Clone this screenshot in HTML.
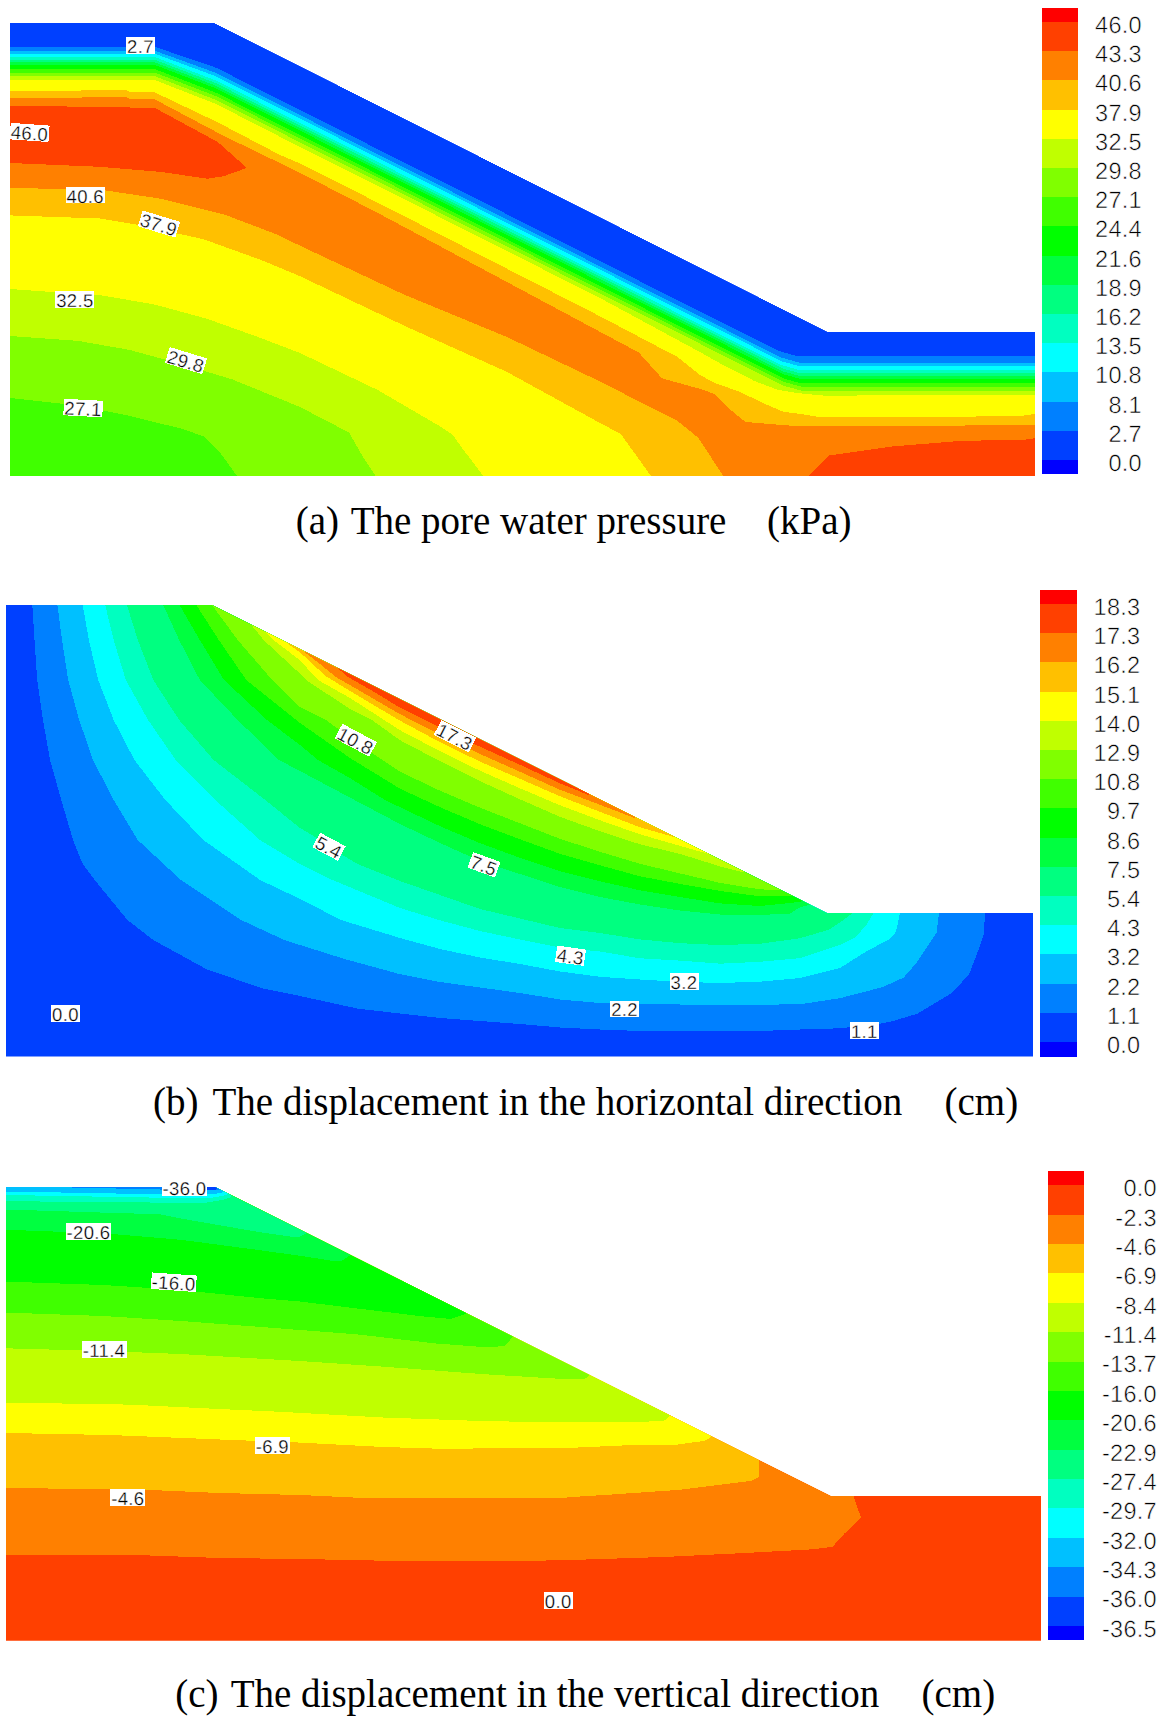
<!DOCTYPE html>
<html><head><meta charset="utf-8"><title>Contours</title>
<style>
html,body{margin:0;padding:0;background:#fff}
svg{display:block}
.sl{font-family:"Liberation Sans",sans-serif;fill:#000;stroke:#fff;stroke-width:0.55px;paint-order:fill stroke;text-rendering:geometricPrecision}
.sb{letter-spacing:0.3px}
.sc{letter-spacing:0.35px;stroke-width:0.3px}
.cp{font-family:"Liberation Serif",serif;font-size:39px;fill:#000}
</style></head><body>
<svg width="1161" height="1716" viewBox="0 0 1161 1716" shape-rendering="crispEdges">
<rect width="1161" height="1716" fill="#fff"/>
<clipPath id="ca"><polygon points="10.0,22.8 214.0,22.8 828.0,332.0 1035.0,332.0 1035.0,476.0 10.0,476.0"/></clipPath>
<g clip-path="url(#ca)"><polygon points="10.0,22.8 214.0,22.8 828.0,332.0 1035.0,332.0 1035.0,476.0 10.0,476.0" fill="#0040ff"/>
<polygon points="10.0,46.9 155.0,46.9 216.0,67.7 778.1,350.8 796.1,355.8 1035.0,355.8 1035.0,481.0 10.0,481.0" fill="#0080ff"/>
<polygon points="10.0,50.8 155.0,50.8 216.0,72.9 781.3,357.6 799.3,362.6 1035.0,362.6 1035.0,481.0 10.0,481.0" fill="#00c0ff"/>
<polygon points="10.0,53.8 155.0,53.8 216.0,76.3 782.1,361.4 800.1,366.4 1035.0,366.4 1035.0,481.0 10.0,481.0" fill="#00ffff"/>
<polygon points="10.0,57.1 155.0,57.1 216.0,80.6 780.1,364.7 798.1,369.7 1035.0,369.7 1035.0,481.0 10.0,481.0" fill="#00ffc0"/>
<polygon points="10.0,59.8 155.0,59.8 216.0,83.2 782.1,368.3 800.1,373.3 1035.0,373.3 1035.0,481.0 10.0,481.0" fill="#00ff80"/>
<polygon points="10.0,62.4 155.0,62.4 216.0,85.8 783.1,371.4 801.1,376.4 1035.0,376.4 1035.0,481.0 10.0,481.0" fill="#00ff40"/>
<polygon points="10.0,65.0 155.0,65.0 216.0,88.4 783.7,374.3 801.7,379.3 1035.0,379.3 1035.0,481.0 10.0,481.0" fill="#00ff00"/>
<polygon points="10.0,69.2 155.0,69.2 216.0,92.7 783.3,378.4 801.3,383.4 1035.0,383.4 1035.0,481.0 10.0,481.0" fill="#40ff00"/>
<polygon points="10.0,72.7 155.0,72.7 216.0,96.1 782.7,381.5 800.7,386.5 1035.0,386.5 1035.0,481.0 10.0,481.0" fill="#80ff00"/>
<polygon points="10.0,76.2 155.0,76.2 216.0,100.0 782.9,385.5 800.9,390.5 1035.0,390.5 1035.0,481.0 10.0,481.0" fill="#c0ff00"/>
<polygon points="10.0,80.1 155.0,80.1 216.0,104.0 300.0,147.0 380.0,187.0 600.0,298.0 700.0,352.1 727.6,367.5 755.1,381.3 777.2,389.6 796.5,393.0 824.0,395.6 1035.0,395.0 1035.0,481.0 10.0,481.0" fill="#ffff00"/>
<polygon points="10.0,90.8 80.0,90.8 83.0,89.8 126.0,89.8 129.0,91.6 155.0,92.5 217.0,122.0 280.0,155.0 300.0,163.5 380.0,203.8 600.0,316.3 677.5,357.0 700.0,375.0 714.0,382.7 741.0,392.3 762.0,402.7 783.0,411.6 803.0,414.4 818.5,417.0 960.0,416.7 1020.0,416.0 1035.0,414.0 1035.0,481.0 10.0,481.0" fill="#ffc000"/>
<polygon points="10.0,98.0 80.0,98.0 83.0,97.0 126.0,97.0 129.0,98.5 155.0,99.5 224.0,136.0 300.0,172.8 380.0,214.1 600.0,331.8 638.8,352.5 662.0,378.3 700.0,388.9 713.8,393.7 727.6,407.5 745.5,422.0 770.0,424.0 795.0,426.0 1035.0,425.3 1035.0,481.0 10.0,481.0" fill="#ff8000"/>
<polygon points="10.0,105.6 154.8,107.9 217.8,142.0 246.8,167.9 224.0,176.1 207.5,178.8 162.0,172.0 100.0,166.8 10.0,163.0" fill="#ff4000"/>
<polygon points="806.4,478.0 829.3,455.5 892.0,446.5 959.0,441.0 1030.8,439.4 1035.0,437.6 1035.0,478.0" fill="#ff4000"/>
<polygon points="10.0,188.0 100.0,189.6 162.0,198.9 224.0,214.4 275.7,234.0 300.0,245.7 403.4,294.3 506.7,336.9 600.0,381.5 677.5,421.0 698.2,437.7 724.0,477.0 10.0,477.0" fill="#ffc000"/>
<polygon points="10.0,215.4 100.0,218.5 137.0,224.7 203.4,239.2 261.2,260.0 300.0,276.2 403.4,325.3 506.7,371.8 600.0,423.0 620.7,433.9 651.7,477.0 10.0,477.0" fill="#ffff00"/>
<polygon points="10.0,289.0 103.0,295.6 155.0,304.6 207.0,318.8 258.0,337.0 300.0,353.0 377.5,389.9 440.0,426.3 453.0,435.0 462.0,448.0 470.5,459.0 484.0,477.0 10.0,477.0" fill="#c0ff00"/>
<polygon points="10.0,336.0 77.5,340.8 129.0,349.8 181.0,364.0 232.6,379.5 300.0,407.0 349.0,432.5 364.6,459.6 376.2,477.0 10.0,477.0" fill="#80ff00"/>
<polygon points="10.0,398.0 77.5,405.4 129.0,415.7 181.0,428.6 204.0,436.4 219.6,451.9 237.7,477.0 10.0,477.0" fill="#40ff00"/></g>
<clipPath id="cb"><polygon points="6.0,605.0 212.0,605.0 827.0,913.0 1033.0,913.0 1033.0,1056.5 6.0,1056.5"/></clipPath>
<g clip-path="url(#cb)"><polygon points="6.0,605.0 212.0,605.0 827.0,913.0 1033.0,913.0 1033.0,1056.5 6.0,1056.5" fill="#0040ff"/>
<polygon points="32.3,605.0 34.5,640.0 37.2,680.0 43.0,720.0 50.0,760.0 61.3,800.0 73.0,840.0 82.7,863.9 94.7,880.0 111.0,900.0 127.5,920.0 153.3,940.0 206.7,969.3 261.8,988.2 300.0,996.0 357.5,1008.6 400.0,1013.5 440.0,1018.0 480.0,1021.0 520.0,1024.0 560.0,1027.5 600.0,1029.5 640.0,1031.0 760.0,1031.0 800.0,1029.5 840.0,1028.3 878.8,1024.0 891.7,1021.4 917.5,1013.7 952.0,993.0 969.2,974.1 977.8,951.7 983.8,934.5 985.0,912.9 985.0,590.0 32.3,590.0" fill="#0080ff"/>
<polygon points="57.4,605.0 62.0,640.0 68.2,680.0 79.2,720.0 93.0,760.0 113.7,800.0 137.8,840.0 180.9,880.0 241.2,920.0 284.2,940.0 344.5,959.0 400.0,974.2 440.0,982.0 480.0,987.5 520.0,993.0 560.0,999.5 600.0,1003.0 640.0,1004.0 680.0,1004.5 760.0,1004.7 800.0,1004.3 840.0,998.2 883.0,987.0 903.7,977.5 915.8,963.7 926.1,948.2 936.5,932.7 939.0,912.9 939.0,590.0 57.4,590.0" fill="#00c0ff"/>
<polygon points="82.7,605.0 88.9,640.0 98.2,680.0 113.7,720.0 134.4,760.0 165.4,800.0 203.3,840.0 260.1,880.0 300.0,898.9 341.0,920.0 400.0,938.0 440.0,949.0 480.0,957.5 520.0,964.0 560.0,971.5 600.0,976.8 640.0,979.5 680.0,981.8 720.0,983.0 760.0,981.7 800.0,978.0 840.0,968.0 865.8,951.7 890.0,938.8 896.0,931.9 900.0,912.9 900.0,590.0 82.7,590.0" fill="#00ffff"/>
<polygon points="105.2,605.0 113.7,640.0 125.8,680.0 148.1,720.0 175.7,760.0 215.3,800.0 260.0,840.0 300.0,864.0 332.5,880.0 400.0,908.0 440.0,920.3 480.0,931.0 520.0,939.5 560.0,947.5 600.0,951.5 640.0,958.3 680.0,960.6 720.0,963.7 760.0,961.8 800.0,958.1 840.0,944.8 855.5,937.0 865.8,925.8 873.6,912.9 873.6,590.0 105.2,590.0" fill="#00ffc0"/>
<polygon points="126.9,605.0 137.8,640.0 153.3,680.0 179.2,720.0 213.6,760.0 265.3,800.0 300.0,828.0 320.4,840.0 329.0,846.8 357.5,864.0 400.0,881.0 440.0,895.0 480.0,909.0 520.0,918.5 560.0,928.0 600.0,933.0 640.0,939.4 680.0,943.2 720.0,945.1 760.0,943.8 800.0,938.2 829.2,929.6 840.0,922.4 852.9,912.9 852.9,590.0 126.9,590.0" fill="#00ff80"/>
<polygon points="163.2,605.0 179.2,640.0 199.8,680.0 237.7,720.0 279.0,760.0 300.0,771.0 350.0,797.6 400.0,824.0 440.0,843.0 480.0,861.0 520.0,874.0 560.0,887.0 600.0,897.0 640.0,904.5 680.0,910.5 720.0,914.5 760.0,915.0 790.0,913.5 800.0,907.2 810.2,904.6 810.2,590.0 163.2,590.0" fill="#00ff40"/>
<polygon points="179.5,605.0 199.8,640.0 224.0,680.0 267.0,720.0 300.0,745.0 318.0,760.0 350.0,778.1 385.0,800.0 400.0,807.2 440.0,826.2 480.0,843.2 520.0,857.8 560.0,871.3 600.0,881.3 640.0,890.3 680.0,897.0 720.0,903.4 760.0,906.0 790.0,903.0 803.4,901.2 803.4,590.0 179.5,590.0" fill="#00ff00"/>
<polygon points="196.3,605.0 218.8,640.0 246.3,680.0 296.3,720.0 300.0,723.0 350.0,758.0 400.0,788.7 440.0,807.2 480.0,824.2 520.0,839.3 560.0,853.8 600.0,865.3 640.0,876.3 680.0,883.9 720.0,890.9 760.0,896.4 794.0,896.0 794.0,590.0 196.3,590.0" fill="#40ff00"/>
<polygon points="212.0,605.0 237.7,640.0 272.2,680.0 300.0,707.0 326.0,720.0 355.8,742.0 400.0,771.7 440.0,790.7 480.0,807.7 520.0,823.3 560.0,838.8 600.0,851.8 640.0,863.8 680.0,873.4 720.0,882.9 760.0,889.4 781.0,890.0 781.0,590.0 212.0,590.0" fill="#80ff00"/>
<polygon points="251.9,625.5 263.6,640.0 300.0,673.7 306.0,680.0 350.0,709.0 372.0,720.0 400.0,740.2 440.0,761.2 480.0,781.2 520.0,799.3 560.0,816.8 600.0,831.3 640.0,844.3 680.0,853.9 720.0,866.4 744.0,872.5 744.0,590.0 251.9,590.0" fill="#c0ff00"/>
<polygon points="266.0,632.5 273.5,640.0 300.0,660.3 318.0,680.0 350.0,698.0 400.0,730.2 440.0,751.2 480.0,770.7 520.0,788.3 560.0,805.3 600.0,820.3 640.0,834.3 680.0,845.9 709.0,854.0 709.0,590.0 266.0,590.0" fill="#ffff00"/>
<polygon points="287.0,643.0 300.0,652.3 325.6,676.0 350.0,691.0 400.0,720.7 440.0,742.2 480.0,761.6 520.0,778.8 560.0,796.3 600.0,811.8 640.0,827.3 673.8,837.0 673.8,590.0 287.0,590.0" fill="#ffc000"/>
<polygon points="304.7,652.2 320.0,664.0 335.9,677.0 355.0,688.0 400.0,714.2 440.0,734.7 480.0,754.0 520.0,771.8 560.0,789.8 600.0,804.8 635.0,818.2 635.0,590.0 304.7,590.0" fill="#ff8000"/>
<polygon points="338.0,668.5 348.0,677.0 375.0,692.5 400.0,707.7 440.0,727.7 480.0,746.7 520.0,764.8 560.0,783.3 588.5,795.0 588.5,590.0 338.0,590.0" fill="#ff4000"/></g>
<clipPath id="cc"><polygon points="6.0,1187.0 215.0,1187.0 831.0,1496.0 1041.0,1496.0 1041.0,1640.8 6.0,1640.8"/></clipPath>
<g clip-path="url(#cc)"><polygon points="6.0,1187.0 215.0,1187.0 831.0,1496.0 1041.0,1496.0 1041.0,1640.8 6.0,1640.8" fill="#ff4000"/>
<polygon points="6.0,1555.0 150.0,1555.5 220.0,1558.0 300.0,1559.0 383.4,1560.7 538.0,1560.7 580.0,1559.7 663.4,1557.0 740.9,1553.2 813.2,1549.3 832.6,1546.7 844.2,1533.8 861.0,1517.8 853.5,1496.0 853.5,1170.0 6.0,1170.0" fill="#ff8000"/>
<polygon points="6.0,1487.9 150.0,1490.0 220.0,1493.0 300.0,1495.0 357.5,1497.7 564.0,1497.7 580.0,1496.5 611.7,1494.5 678.9,1489.9 751.2,1480.8 759.0,1477.0 759.0,1460.2 759.0,1170.0 6.0,1170.0" fill="#ffc000"/>
<polygon points="6.0,1433.0 110.0,1435.0 220.0,1439.5 300.0,1442.6 383.4,1447.0 435.0,1448.6 560.0,1448.3 624.6,1445.4 676.3,1444.7 704.7,1440.8 711.2,1437.0 711.2,1170.0 6.0,1170.0" fill="#ffff00"/>
<polygon points="6.0,1402.6 129.0,1404.6 219.6,1409.0 280.0,1411.8 383.4,1417.5 486.7,1421.2 560.0,1422.2 663.4,1421.4 669.8,1416.2 669.8,1170.0 6.0,1170.0" fill="#c0ff00"/>
<polygon points="6.0,1348.3 103.4,1351.0 181.0,1354.0 258.4,1358.6 300.0,1361.0 383.4,1366.7 486.7,1374.4 560.0,1378.8 585.0,1378.8 589.7,1375.0 589.7,1170.0 6.0,1170.0" fill="#80ff00"/>
<polygon points="6.0,1312.6 103.4,1316.0 181.0,1321.0 258.4,1326.8 300.0,1330.0 357.5,1334.4 435.0,1343.4 486.7,1347.3 504.8,1346.0 512.6,1337.0 512.6,1170.0 6.0,1170.0" fill="#40ff00"/>
<polygon points="6.0,1281.6 103.4,1285.0 181.0,1290.0 258.4,1298.0 300.0,1301.5 357.5,1308.5 422.0,1316.3 450.5,1318.9 466.0,1313.7 466.0,1170.0 6.0,1170.0" fill="#00ff00"/>
<polygon points="6.0,1229.8 103.4,1233.3 181.0,1239.8 258.4,1250.0 300.0,1255.8 331.7,1260.7 342.0,1260.7 349.8,1255.6 349.8,1170.0 6.0,1170.0" fill="#00ff40"/>
<polygon points="6.0,1209.5 103.4,1212.6 160.0,1214.3 181.0,1218.5 258.4,1232.0 290.0,1236.5 300.0,1236.5 305.8,1233.6 305.8,1170.0 6.0,1170.0" fill="#00ff80"/>
<polygon points="6.0,1201.2 160.0,1202.6 206.7,1202.5 222.0,1200.0 231.0,1197.0 231.0,1170.0 6.0,1170.0" fill="#00ffc0"/>
<polygon points="6.0,1195.0 160.0,1197.7 210.0,1198.0 222.0,1196.0 228.0,1194.0 228.0,1170.0 6.0,1170.0" fill="#00ffff"/>
<polygon points="6.0,1191.5 160.0,1194.3 212.0,1194.5 224.0,1192.0 224.0,1170.0 6.0,1170.0" fill="#00c0ff"/>
<polygon points="50.0,1187.0 160.0,1189.5 215.0,1190.5 221.0,1190.3 221.0,1170.0 50.0,1170.0" fill="#0080ff"/>
<polygon points="207.0,1186.0 220.0,1186.0 216.0,1189.5 207.0,1189.5" fill="#0040ff"/></g>
<rect x="1042" y="8.0" width="36" height="14.5" fill="#ff0000"/>
<rect x="1042" y="22.0" width="36" height="29.7" fill="#ff4000"/>
<rect x="1042" y="51.2" width="36" height="29.7" fill="#ff8000"/>
<rect x="1042" y="80.4" width="36" height="29.7" fill="#ffc000"/>
<rect x="1042" y="109.6" width="36" height="29.7" fill="#ffff00"/>
<rect x="1042" y="138.8" width="36" height="29.7" fill="#c0ff00"/>
<rect x="1042" y="168.0" width="36" height="29.7" fill="#80ff00"/>
<rect x="1042" y="197.2" width="36" height="29.7" fill="#40ff00"/>
<rect x="1042" y="226.4" width="36" height="29.7" fill="#00ff00"/>
<rect x="1042" y="255.6" width="36" height="29.7" fill="#00ff40"/>
<rect x="1042" y="284.8" width="36" height="29.7" fill="#00ff80"/>
<rect x="1042" y="314.0" width="36" height="29.7" fill="#00ffc0"/>
<rect x="1042" y="343.2" width="36" height="29.7" fill="#00ffff"/>
<rect x="1042" y="372.4" width="36" height="29.7" fill="#00c0ff"/>
<rect x="1042" y="401.6" width="36" height="29.7" fill="#0080ff"/>
<rect x="1042" y="430.8" width="36" height="29.7" fill="#0040ff"/>
<rect x="1042" y="460.0" width="36" height="14.1" fill="#0000ff"/>
<text x="1142" y="32.9" text-anchor="end" font-size="23.5" class="sl sb">46.0</text>
<text x="1142" y="62.1" text-anchor="end" font-size="23.5" class="sl sb">43.3</text>
<text x="1142" y="91.3" text-anchor="end" font-size="23.5" class="sl sb">40.6</text>
<text x="1142" y="120.5" text-anchor="end" font-size="23.5" class="sl sb">37.9</text>
<text x="1142" y="149.7" text-anchor="end" font-size="23.5" class="sl sb">32.5</text>
<text x="1142" y="178.9" text-anchor="end" font-size="23.5" class="sl sb">29.8</text>
<text x="1142" y="208.1" text-anchor="end" font-size="23.5" class="sl sb">27.1</text>
<text x="1142" y="237.3" text-anchor="end" font-size="23.5" class="sl sb">24.4</text>
<text x="1142" y="266.5" text-anchor="end" font-size="23.5" class="sl sb">21.6</text>
<text x="1142" y="295.7" text-anchor="end" font-size="23.5" class="sl sb">18.9</text>
<text x="1142" y="324.9" text-anchor="end" font-size="23.5" class="sl sb">16.2</text>
<text x="1142" y="354.1" text-anchor="end" font-size="23.5" class="sl sb">13.5</text>
<text x="1142" y="383.3" text-anchor="end" font-size="23.5" class="sl sb">10.8</text>
<text x="1142" y="412.5" text-anchor="end" font-size="23.5" class="sl sb">8.1</text>
<text x="1142" y="441.7" text-anchor="end" font-size="23.5" class="sl sb">2.7</text>
<text x="1142" y="470.9" text-anchor="end" font-size="23.5" class="sl sb">0.0</text>
<rect x="1040" y="590.0" width="37" height="14.5" fill="#ff0000"/>
<rect x="1040" y="604.0" width="37" height="29.7" fill="#ff4000"/>
<rect x="1040" y="633.2" width="37" height="29.7" fill="#ff8000"/>
<rect x="1040" y="662.4" width="37" height="29.7" fill="#ffc000"/>
<rect x="1040" y="691.6" width="37" height="29.7" fill="#ffff00"/>
<rect x="1040" y="720.8" width="37" height="29.7" fill="#c0ff00"/>
<rect x="1040" y="750.0" width="37" height="29.7" fill="#80ff00"/>
<rect x="1040" y="779.2" width="37" height="29.7" fill="#40ff00"/>
<rect x="1040" y="808.4" width="37" height="29.7" fill="#00ff00"/>
<rect x="1040" y="837.6" width="37" height="29.7" fill="#00ff40"/>
<rect x="1040" y="866.8" width="37" height="29.7" fill="#00ff80"/>
<rect x="1040" y="896.0" width="37" height="29.7" fill="#00ffc0"/>
<rect x="1040" y="925.2" width="37" height="29.7" fill="#00ffff"/>
<rect x="1040" y="954.4" width="37" height="29.7" fill="#00c0ff"/>
<rect x="1040" y="983.6" width="37" height="29.7" fill="#0080ff"/>
<rect x="1040" y="1012.8" width="37" height="29.7" fill="#0040ff"/>
<rect x="1040" y="1042.0" width="37" height="14.5" fill="#0000ff"/>
<text x="1140.5" y="614.9" text-anchor="end" font-size="23.5" class="sl sb">18.3</text>
<text x="1140.5" y="644.1" text-anchor="end" font-size="23.5" class="sl sb">17.3</text>
<text x="1140.5" y="673.3" text-anchor="end" font-size="23.5" class="sl sb">16.2</text>
<text x="1140.5" y="702.5" text-anchor="end" font-size="23.5" class="sl sb">15.1</text>
<text x="1140.5" y="731.7" text-anchor="end" font-size="23.5" class="sl sb">14.0</text>
<text x="1140.5" y="760.9" text-anchor="end" font-size="23.5" class="sl sb">12.9</text>
<text x="1140.5" y="790.1" text-anchor="end" font-size="23.5" class="sl sb">10.8</text>
<text x="1140.5" y="819.3" text-anchor="end" font-size="23.5" class="sl sb">9.7</text>
<text x="1140.5" y="848.5" text-anchor="end" font-size="23.5" class="sl sb">8.6</text>
<text x="1140.5" y="877.7" text-anchor="end" font-size="23.5" class="sl sb">7.5</text>
<text x="1140.5" y="906.9" text-anchor="end" font-size="23.5" class="sl sb">5.4</text>
<text x="1140.5" y="936.1" text-anchor="end" font-size="23.5" class="sl sb">4.3</text>
<text x="1140.5" y="965.3" text-anchor="end" font-size="23.5" class="sl sb">3.2</text>
<text x="1140.5" y="994.5" text-anchor="end" font-size="23.5" class="sl sb">2.2</text>
<text x="1140.5" y="1023.7" text-anchor="end" font-size="23.5" class="sl sb">1.1</text>
<text x="1140.5" y="1052.9" text-anchor="end" font-size="23.5" class="sl sb">0.0</text>
<rect x="1048" y="1171.0" width="36" height="14.8" fill="#ff0000"/>
<rect x="1048" y="1185.3" width="36" height="29.9" fill="#ff4000"/>
<rect x="1048" y="1214.7" width="36" height="29.9" fill="#ff8000"/>
<rect x="1048" y="1244.0" width="36" height="29.9" fill="#ffc000"/>
<rect x="1048" y="1273.4" width="36" height="29.9" fill="#ffff00"/>
<rect x="1048" y="1302.8" width="36" height="29.9" fill="#c0ff00"/>
<rect x="1048" y="1332.1" width="36" height="29.9" fill="#80ff00"/>
<rect x="1048" y="1361.5" width="36" height="29.9" fill="#40ff00"/>
<rect x="1048" y="1390.9" width="36" height="29.9" fill="#00ff00"/>
<rect x="1048" y="1420.3" width="36" height="29.9" fill="#00ff40"/>
<rect x="1048" y="1449.6" width="36" height="29.9" fill="#00ff80"/>
<rect x="1048" y="1479.0" width="36" height="29.9" fill="#00ffc0"/>
<rect x="1048" y="1508.4" width="36" height="29.9" fill="#00ffff"/>
<rect x="1048" y="1537.7" width="36" height="29.9" fill="#00c0ff"/>
<rect x="1048" y="1567.1" width="36" height="29.9" fill="#0080ff"/>
<rect x="1048" y="1596.5" width="36" height="29.9" fill="#0040ff"/>
<rect x="1048" y="1625.8" width="36" height="14.4" fill="#0000ff"/>
<text x="1157" y="1196.2" text-anchor="end" font-size="23.5" class="sl sb">0.0</text>
<text x="1157" y="1225.6" text-anchor="end" font-size="23.5" class="sl sb">-2.3</text>
<text x="1157" y="1255.0" text-anchor="end" font-size="23.5" class="sl sb">-4.6</text>
<text x="1157" y="1284.3" text-anchor="end" font-size="23.5" class="sl sb">-6.9</text>
<text x="1157" y="1313.7" text-anchor="end" font-size="23.5" class="sl sb">-8.4</text>
<text x="1157" y="1343.1" text-anchor="end" font-size="23.5" class="sl sb">-11.4</text>
<text x="1157" y="1372.4" text-anchor="end" font-size="23.5" class="sl sb">-13.7</text>
<text x="1157" y="1401.8" text-anchor="end" font-size="23.5" class="sl sb">-16.0</text>
<text x="1157" y="1431.2" text-anchor="end" font-size="23.5" class="sl sb">-20.6</text>
<text x="1157" y="1460.5" text-anchor="end" font-size="23.5" class="sl sb">-22.9</text>
<text x="1157" y="1489.9" text-anchor="end" font-size="23.5" class="sl sb">-27.4</text>
<text x="1157" y="1519.3" text-anchor="end" font-size="23.5" class="sl sb">-29.7</text>
<text x="1157" y="1548.7" text-anchor="end" font-size="23.5" class="sl sb">-32.0</text>
<text x="1157" y="1578.0" text-anchor="end" font-size="23.5" class="sl sb">-34.3</text>
<text x="1157" y="1607.4" text-anchor="end" font-size="23.5" class="sl sb">-36.0</text>
<text x="1157" y="1636.8" text-anchor="end" font-size="23.5" class="sl sb">-36.5</text>
<g><rect x="126.0" y="37.1" width="29.0" height="16.5" fill="#fff"/><text x="140.5" y="52.8" text-anchor="middle" font-size="18.5" class="sl sc">2.7</text></g>
<g transform="rotate(4 29.6 132.5)"><rect x="10.1" y="124.2" width="39.0" height="16.5" fill="#fff"/><text x="29.6" y="139.9" text-anchor="middle" font-size="18.5" class="sl sc">46.0</text></g>
<g><rect x="65.8" y="186.9" width="39.0" height="16.5" fill="#fff"/><text x="85.3" y="202.6" text-anchor="middle" font-size="18.5" class="sl sc">40.6</text></g>
<g transform="rotate(17 159.0 224.0)"><rect x="139.5" y="215.8" width="39.0" height="16.5" fill="#fff"/><text x="159.0" y="231.4" text-anchor="middle" font-size="18.5" class="sl sc">37.9</text></g>
<g><rect x="55.4" y="291.2" width="39.0" height="16.5" fill="#fff"/><text x="74.9" y="306.9" text-anchor="middle" font-size="18.5" class="sl sc">32.5</text></g>
<g transform="rotate(17 186.0 360.7)"><rect x="166.5" y="352.4" width="39.0" height="16.5" fill="#fff"/><text x="186.0" y="368.1" text-anchor="middle" font-size="18.5" class="sl sc">29.8</text></g>
<g transform="rotate(3 83.2 408.0)"><rect x="63.7" y="399.8" width="39.0" height="16.5" fill="#fff"/><text x="83.2" y="415.4" text-anchor="middle" font-size="18.5" class="sl sc">27.1</text></g>
<g transform="rotate(28 355.8 740.3)"><rect x="336.3" y="732.0" width="39.0" height="16.5" fill="#fff"/><text x="355.8" y="747.7" text-anchor="middle" font-size="18.5" class="sl sc">10.8</text></g>
<g transform="rotate(27 455.0 736.2)"><rect x="435.5" y="728.0" width="39.0" height="16.5" fill="#fff"/><text x="455.0" y="743.6" text-anchor="middle" font-size="18.5" class="sl sc">17.3</text></g>
<g transform="rotate(28 329.0 846.8)"><rect x="314.5" y="838.5" width="29.0" height="16.5" fill="#fff"/><text x="329.0" y="854.2" text-anchor="middle" font-size="18.5" class="sl sc">5.4</text></g>
<g transform="rotate(20 484.0 864.8)"><rect x="469.5" y="856.5" width="29.0" height="16.5" fill="#fff"/><text x="484.0" y="872.2" text-anchor="middle" font-size="18.5" class="sl sc">7.5</text></g>
<g transform="rotate(8 570.5 955.7)"><rect x="556.0" y="947.5" width="29.0" height="16.5" fill="#fff"/><text x="570.5" y="963.1" text-anchor="middle" font-size="18.5" class="sl sc">4.3</text></g>
<g><rect x="669.5" y="973.2" width="29.0" height="16.5" fill="#fff"/><text x="684.0" y="988.9" text-anchor="middle" font-size="18.5" class="sl sc">3.2</text></g>
<g><rect x="610.1" y="1000.8" width="29.0" height="16.5" fill="#fff"/><text x="624.6" y="1016.4" text-anchor="middle" font-size="18.5" class="sl sc">2.2</text></g>
<g><rect x="849.8" y="1022.0" width="29.0" height="16.5" fill="#fff"/><text x="864.3" y="1037.7" text-anchor="middle" font-size="18.5" class="sl sc">1.1</text></g>
<g><rect x="51.0" y="1005.0" width="29.0" height="16.5" fill="#fff"/><text x="65.5" y="1020.6" text-anchor="middle" font-size="18.5" class="sl sc">0.0</text></g>
<g><rect x="162.0" y="1179.0" width="45.0" height="16.5" fill="#fff"/><text x="184.5" y="1194.6" text-anchor="middle" font-size="18.5" class="sl sc">-36.0</text></g>
<g><rect x="66.0" y="1223.3" width="45.0" height="16.5" fill="#fff"/><text x="88.5" y="1239.0" text-anchor="middle" font-size="18.5" class="sl sc">-20.6</text></g>
<g transform="rotate(4 173.8 1282.2)"><rect x="151.3" y="1274.0" width="45.0" height="16.5" fill="#fff"/><text x="173.8" y="1289.6" text-anchor="middle" font-size="18.5" class="sl sc">-16.0</text></g>
<g><rect x="81.5" y="1341.3" width="45.0" height="16.5" fill="#fff"/><text x="104.0" y="1357.0" text-anchor="middle" font-size="18.5" class="sl sc">-11.4</text></g>
<g><rect x="254.8" y="1437.0" width="35.0" height="16.5" fill="#fff"/><text x="272.3" y="1452.6" text-anchor="middle" font-size="18.5" class="sl sc">-6.9</text></g>
<g><rect x="110.3" y="1489.0" width="35.0" height="16.5" fill="#fff"/><text x="127.8" y="1504.6" text-anchor="middle" font-size="18.5" class="sl sc">-4.6</text></g>
<g><rect x="543.7" y="1592.0" width="29.0" height="16.5" fill="#fff"/><text x="558.2" y="1607.7" text-anchor="middle" font-size="18.5" class="sl sc">0.0</text></g>
<text x="295.8" y="534" class="cp">(a)</text><text x="350.7" y="534" class="cp">The pore water pressure</text><text x="767" y="534" class="cp">(kPa)</text>
<text x="153" y="1114.5" class="cp">(b)</text><text x="212.5" y="1114.5" class="cp">The displacement in the horizontal direction</text><text x="944.5" y="1114.5" class="cp">(cm)</text>
<text x="175.3" y="1707" class="cp">(c)</text><text x="230.7" y="1707" class="cp">The displacement in the vertical direction</text><text x="921.5" y="1707" class="cp">(cm)</text>
</svg>
</body></html>
